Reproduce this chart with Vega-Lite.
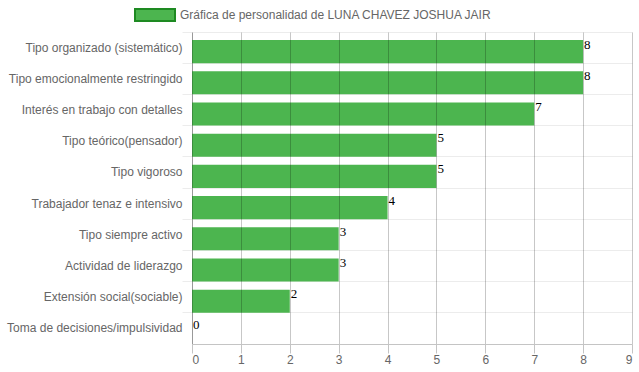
{
  "$schema": "https://vega.github.io/schema/vega-lite/v6.json",
  "width": 440,
  "height": 312,
  "autosize": {"type": "none"},
  "padding": {"left": 192, "top": 32, "right": 7, "bottom": 28},
  "background": "white",
  "config": {
    "view": {"stroke": null},
    "axis": {"labelFont": "Liberation Sans", "labelFontSize": 12, "labelColor": "#666666"}
  },
  "data": {
    "values": [
      {"rasgo": "Tipo organizado (sistemático)", "valor": 8},
      {"rasgo": "Tipo emocionalmente restringido", "valor": 8},
      {"rasgo": "Interés en trabajo con detalles", "valor": 7},
      {"rasgo": "Tipo teórico(pensador)", "valor": 5},
      {"rasgo": "Tipo vigoroso", "valor": 5},
      {"rasgo": "Trabajador tenaz e intensivo", "valor": 4},
      {"rasgo": "Tipo siempre activo", "valor": 3},
      {"rasgo": "Actividad de liderazgo", "valor": 3},
      {"rasgo": "Extensión social(sociable)", "valor": 2},
      {"rasgo": "Toma de decisiones/impulsividad", "valor": 0}
    ]
  },
  "encoding": {
    "y": {
      "field": "rasgo", "type": "nominal", "sort": null,
      "scale": {"paddingInner": 0, "paddingOuter": 0},
      "axis": {
        "title": null, "bandPosition": 0,
        "grid": true, "gridColor": "#ececec", "gridWidth": 1,
        "tickColor": "#ececec", "tickSize": 10, "labelPadding": 0,
        "domain": true, "domainColor": "#c4c4c4"
      }
    },
    "x": {
      "field": "valor", "type": "quantitative",
      "scale": {"domain": [0, 9], "nice": false},
      "axis": {
        "title": null, "values": [0,1,2,3,4,5,6,7,8,9], "format": "d", "zindex": 1,
        "grid": true, "gridColor": "#000000", "gridOpacity": 0.22,
        "tickColor": "#c4c4c4",
        "domainColor": "#c4c4c4", "tickSize": 9, "labelPadding": 1
      }
    }
  },
  "layer": [
    {
      "mark": {"type": "bar", "height": {"band": 0.74}, "yOffset": 4, "color": "#4cb54f"}
    },
    {
      "transform": [{"filter": "datum.valor > 100"}],
      "mark": {"type": "bar", "fill": "#4cb54f", "stroke": "#1e8a22", "strokeWidth": 2},
      "encoding": {
        "color": {
          "datum": "Gráfica de personalidad de LUNA CHAVEZ JOSHUA JAIR",
          "type": "nominal",
          "scale": {"range": ["#4cb54f"]},
          "legend": {
            "title": null, "orient": "none", "legendX": -58, "legendY": -38,
            "padding": 0, "labelLimit": 500,
            "symbolType": "M-1,-0.3H1V0.3H-1Z", "symbolSize": 1600,
            "symbolStrokeColor": "#1e8a22", "symbolStrokeWidth": 2,
            "labelFont": "Liberation Sans", "labelFontSize": 12, "labelColor": "#666666",
            "labelOffset": 4
          }
        }
      }
    },
    {
      "mark": {"type": "text", "align": "left", "baseline": "middle", "dx": 1, "dy": -3,
               "font": "Liberation Serif", "fontSize": 13, "color": "#000000"},
      "encoding": {"text": {"field": "valor", "type": "quantitative"}}
    }
  ]
}
